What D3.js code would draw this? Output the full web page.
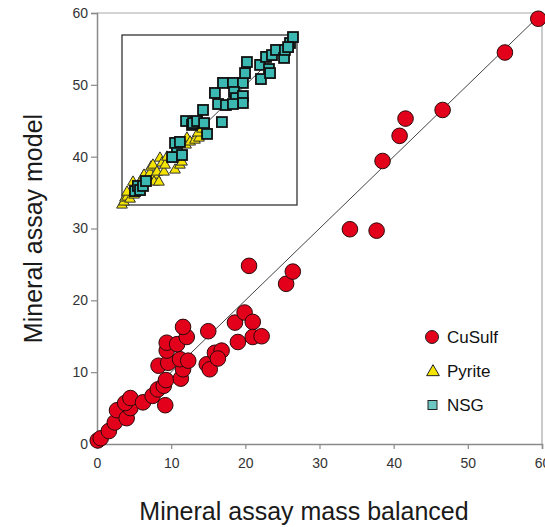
<!DOCTYPE html>
<html><head><meta charset="utf-8">
<script src="https://cdn.jsdelivr.net/npm/d3@7"></script>
<style>body{margin:0;background:#fff}svg{display:block;font-family:"Liberation Sans",Arial,sans-serif}</style>
</head><body>
<svg id="c" width="545" height="527"></svg>
<script>
// Main chart: CuSulf (x = mass balanced, y = model)
const cuX = [0.1,0.5,1.6,2.4,2.7,4.0,4.5,3.8,4.5,6.2,7.5,8.2,9.0,9.3,9.2,11.3,11.6,8.3,9.6,11.2,12.3,9.4,9.4,10.8,12.1,11.6,15.0,14.8,15.2,15.9,16.8,16.3,18.6,19.9,21.0,19.0,21.0,22.2,20.5,25.5,26.4,34.1,37.7,38.5,40.8,41.6,46.6,55.0,59.5];
const cuY = [0.5,0.8,1.8,3.0,4.7,3.6,5.0,5.7,6.4,5.8,6.7,7.6,8.1,8.9,5.4,9.1,10.4,10.9,11.3,11.8,11.6,13.0,14.1,13.9,14.9,16.3,15.7,11.1,10.4,12.7,13.0,11.9,16.9,18.3,17.0,14.2,14.9,15.0,24.8,22.3,24.0,29.9,29.7,39.4,42.9,45.3,46.5,54.5,59.2];
// Inset (own relative scale, 0-100)
const pyX = [0,1.1,1.7,2.9,4.6,2.9,6.9,6.3,9.7,12.0,12.6,14.3,16.0,16.6,17.7,18.9,18.3,21.1,20.0,21.7,22.9,24.0,24.6,25.7,28.6,30.3,31.4,32.0,33.1,34.3,36.6,37.1,38.9,41.7,44.0,43.4,45.7];
const pyY = [0,1.8,4.1,4.7,3.5,7.6,5.9,13.5,8.8,16.5,17.6,15.3,18.8,22.4,23.5,17.6,13.5,13.5,19.4,27.6,24.7,19.4,23.5,28.2,27.6,20.6,28.2,30.6,23.5,25.3,35.3,39.4,37.1,38.2,39.4,42.4,44.7];
const nsgX = [7.4,9.1,10.3,12.0,13.7,28.6,31.4,30.3,33.1,34.3,36.6,40.0,40.6,42.9,46.9,48.6,46.3,57.1,53.1,54.9,59.4,57.7,63.4,69.1,64.0,65.1,69.1,69.1,63.4,70.3,71.4,78.9,84.0,79.4,84.6,82.3,85.7,88.0,92.6,93.1,96.0,97.7,94.9];
const nsgY = [8.2,11.2,8.8,11.2,14.1,28.2,34.1,36.5,37.1,29.4,49.4,47.1,48.2,49.4,48.2,41.8,55.9,48.8,65.9,59.4,58.8,71.8,71.8,71.8,66.5,62.9,64.1,60.0,59.4,77.6,84.1,82.4,80.0,74.1,77.6,87.1,88.2,91.2,86.5,91.2,95.3,98.8,92.9];
const xTicks = [0,10,20,30,40,50,60];
const yTicks = [0,10,20,30,40,50,60];
const legendNames = ["CuSulf","Pyrite","NSG"];
const xTitle = "Mineral assay mass balanced";
const yTitle = "Mineral assay model";

const svg = d3.select("#c");
const x = d3.scaleLinear().domain([0,60]).range([97,542]);
const y = d3.scaleLinear().domain([0,60]).range([444,13]);
const ix = d3.scaleLinear().domain([0,100]).range([122,297]);
const iy = d3.scaleLinear().domain([0,100]).range([205,35]);

// frame (top/right)
svg.append("line").attr("x1",x(0)).attr("x2",x(60)).attr("y1",y(60)).attr("y2",y(60)).attr("stroke","#a8a8a8").attr("stroke-width",1.2);
svg.append("line").attr("x1",x(60)).attr("x2",x(60)).attr("y1",y(60)).attr("y2",y(0)).attr("stroke","#a8a8a8").attr("stroke-width",1.2);

// axes
const xa = svg.append("g").attr("transform",`translate(0,${y(0)})`)
  .call(d3.axisBottom(x).tickValues(xTicks).tickSize(5).tickPadding(9).tickFormat(d3.format("d")));
const ya = svg.append("g").attr("transform",`translate(${x(0)},0)`)
  .call(d3.axisLeft(y).tickValues(yTicks).tickSize(6).tickPadding(3).tickFormat(d3.format("d")));
[xa,ya].forEach(g=>{
  g.select(".domain").attr("stroke","#8a8a8a").attr("stroke-width",1.5);
  g.selectAll(".tick line").attr("stroke","#8a8a8a").attr("stroke-width",1.2);
  g.selectAll(".tick text").attr("fill","#333").style("font-size","14px").style("font-family","'Liberation Sans',Arial,sans-serif");
});

// titles
svg.append("text").attr("x",304).attr("y",520).attr("text-anchor","middle")
  .style("font-size","25px").attr("fill","#1a1a1a").text(xTitle);
svg.append("text").attr("transform",`translate(42,${(y(0)+y(60))/2}) rotate(-90)`).attr("text-anchor","middle")
  .style("font-size","25px").attr("fill","#1a1a1a").text(yTitle);

// main 1:1 line
svg.append("line").attr("x1",x(0)).attr("y1",y(0)).attr("x2",x(60)).attr("y2",y(60)).attr("stroke","#444").attr("stroke-width",1);

// inset
svg.append("rect").attr("x",ix(0)).attr("y",iy(100)).attr("width",ix(100)-ix(0)).attr("height",iy(0)-iy(100))
  .attr("fill","none").attr("stroke","#333").attr("stroke-width",1.3);
svg.append("line").attr("x1",ix(0)).attr("y1",iy(0)).attr("x2",ix(100)).attr("y2",iy(100)).attr("stroke","#444").attr("stroke-width",1);

const tri = d3.symbol().type(d3.symbolTriangle).size(50);
svg.append("g").selectAll("path").data(pyX.map((v,i)=>[v,pyY[i]])).join("path")
  .attr("d",tri).attr("transform",d=>`translate(${ix(d[0])},${iy(d[1])})`)
  .attr("fill","#f4e400").attr("stroke","#333").attr("stroke-width",1);
svg.append("g").selectAll("rect").data(nsgX.map((v,i)=>[v,nsgY[i]])).join("rect")
  .attr("x",d=>ix(d[0])-5).attr("y",d=>iy(d[1])-5).attr("width",10).attr("height",10)
  .attr("fill","#3bb8b2").attr("stroke","#111").attr("stroke-width",1.8);

// CuSulf circles
svg.append("g").selectAll("circle").data(cuX.map((v,i)=>[v,cuY[i]])).join("circle")
  .attr("cx",d=>x(d[0])).attr("cy",d=>y(d[1])).attr("r",7.8)
  .attr("fill","#e3001b").attr("stroke","#2a0a0a").attr("stroke-width",1);

// legend
const lg = svg.append("g");
const ly = [337,371,405];
lg.append("circle").attr("cx",432).attr("cy",ly[0]).attr("r",6.5).attr("fill","#e3001b").attr("stroke","#222").attr("stroke-width",1);
lg.append("path").attr("d",d3.symbol().type(d3.symbolTriangle).size(70)).attr("transform",`translate(433,${ly[1]+1})`).attr("fill","#f4e400").attr("stroke","#222").attr("stroke-width",1);
lg.append("rect").attr("x",428).attr("y",ly[2]-4.5).attr("width",9).attr("height",9).attr("fill","#6cc6c2").attr("stroke","#222").attr("stroke-width",1);
lg.selectAll("text").data(legendNames).join("text").attr("x",447).attr("y",(d,i)=>ly[i]).attr("dy","0.35em")
  .style("font-size","17px").attr("fill","#111").text(d=>d);
</script>
</body></html>
